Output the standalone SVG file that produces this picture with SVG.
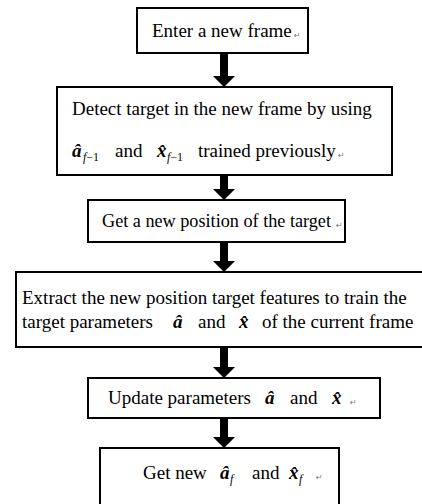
<svg xmlns="http://www.w3.org/2000/svg" width="422" height="504" viewBox="0 0 422 504">
<style>
.box{fill:#fff;stroke:#000;stroke-width:2}
.t{font-family:"Liberation Serif","Times New Roman",serif;font-size:19px;fill:#000}
.m{font-family:"Liberation Serif","Times New Roman",serif;font-size:19px;font-weight:bold;font-style:italic;fill:#000}
.s{font-family:"Liberation Serif","Times New Roman",serif;font-size:12px;fill:#000}
.si{font-style:italic}
.p{font-family:"DejaVu Sans",sans-serif;font-size:8px;fill:#777}
.arr{fill:#000}
</style>
<rect width="422" height="504" fill="#fff"/>
<g id="connectors">
<polygon class="arr" points="220,53 228,53 228,76 235,76 224,87 213,76 220,76"/>
<polygon class="arr" points="220,175 228,175 228,189 235,189 224,200 213,189 220,189"/>
<polygon class="arr" points="220,242 228,242 228,261 235,261 224,272 213,261 220,261"/>
<polygon class="arr" points="220,347 228,347 228,367 235,367 224,378 213,367 220,367"/>
<polygon class="arr" points="220,418 228,418 228,437 235,437 224,448 213,437 220,437"/>
</g>
<g id="node1">
<rect class="box" x="137" y="8" width="171" height="45"/>
<text class="t" x="152" y="37">Enter a new frame</text>
<text class="p" x="294" y="38">↵</text>
</g>
<g id="node2">
<rect class="box" x="57" y="87" width="335" height="88"/>
<text class="t" x="72" y="115">Detect target in the new frame by using</text>
<text class="m" x="72" y="157">â</text>
<text class="s" x="83" y="161"><tspan class="si">f</tspan>−1</text>
<text class="t" x="115" y="157">and</text>
<text class="m" x="157" y="157">x̂</text>
<text class="s" x="167" y="161"><tspan class="si">f</tspan>−1</text>
<text class="t" x="198" y="157">trained previously</text>
<text class="p" x="338" y="158">↵</text>
</g>
<g id="node3">
<rect class="box" x="88" y="200" width="257" height="42"/>
<text class="t" x="102" y="227" style="font-size:18.2px">Get a new position of the target</text>
<text class="p" x="336" y="228">↵</text>
</g>
<g id="node4">
<rect class="box" x="16" y="272" width="420" height="75"/>
<text class="t" x="22" y="304">Extract the new position target features to train the</text>
<text class="t" x="22" y="328">target parameters</text>
<text class="m" x="173" y="328">â</text>
<text class="t" x="198" y="328">and</text>
<text class="m" x="239" y="328">x̂</text>
<text class="t" x="262" y="328">of the current frame</text>
</g>
<g id="node5">
<rect class="box" x="88" y="378" width="292" height="40"/>
<text class="t" x="108" y="404">Update parameters</text>
<text class="m" x="265" y="404">â</text>
<text class="t" x="290" y="404">and</text>
<text class="m" x="332" y="404">x̂</text>
<text class="p" x="350" y="405">↵</text>
</g>
<g id="node6">
<rect class="box" x="100" y="448" width="239" height="70"/>
<text class="t" x="143" y="479">Get new</text>
<text class="m" x="220" y="479">â</text>
<text class="s si" x="230" y="483">f</text>
<text class="t" x="252" y="479">and</text>
<text class="m" x="289" y="479">x̂</text>
<text class="s si" x="299" y="483">f</text>
<text class="p" x="316" y="480">↵</text>
</g>
</svg>
